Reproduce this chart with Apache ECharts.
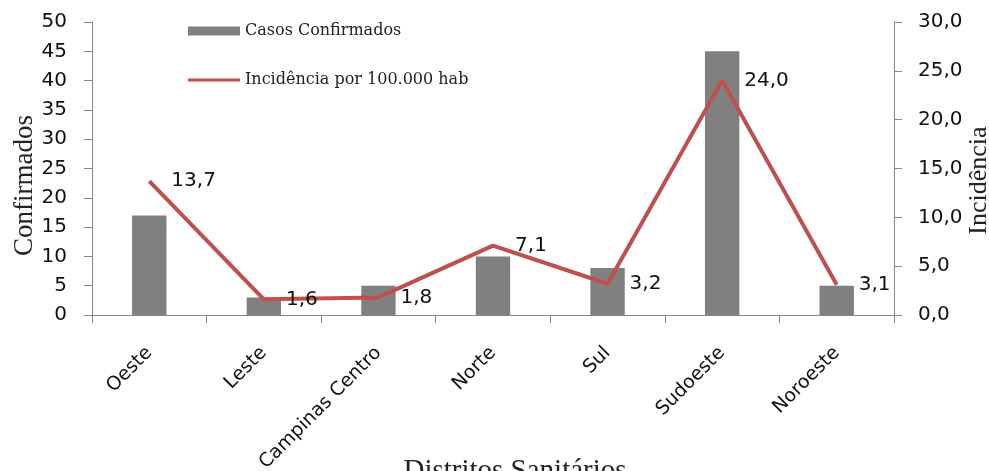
<!DOCTYPE html>
<html>
<head>
<meta charset="utf-8">
<script src="https://cdn.jsdelivr.net/npm/echarts@6/dist/echarts.min.js"></script>
<style>
  html, body { margin: 0; padding: 0; background: #fff; }
  #chart { width: 989px; height: 471px; }
</style>
</head>
<body>
<div id="chart"></div>
<script>
// dados
var distritos = ['Oeste', 'Leste', 'Campinas Centro', 'Norte', 'Sul', 'Sudoeste', 'Noroeste'];
var confirmados = [17, 3, 5, 10, 8, 45, 5];
var incidencia = [13.7, 1.6, 1.8, 7.1, 3.2, 24.0, 3.1];

var serif = '"Liberation Serif", "DejaVu Serif", serif';
var sans = '"DejaVu Sans", Verdana, sans-serif';
var axisGray = '#868686';
var lineRed = '#c0504d';

function virgula(v) { return v.toFixed(1).replace('.', ','); }

var chart = echarts.init(document.getElementById('chart'));
chart.setOption({
  animation: false,
  grid: { left: 92, right: 95, top: 22, bottom: 156, outerBoundsMode: 'none', containLabel: false },
  legend: {
    orient: 'vertical',
    left: 183,
    top: 18,
    itemWidth: 52,
    itemHeight: 9,
    itemGap: 33,
    textStyle: { fontFamily: '"DejaVu Serif", serif', fontSize: 16, color: '#222' },
    data: [
      { name: 'Casos Confirmados', icon: 'rect' },
      { name: 'Incidência por 100.000 hab', icon: 'path://M0,0 L52,0 L52,3 L0,3 Z', itemStyle: { color: lineRed } }
    ]
  },
  xAxis: {
    type: 'category',
    data: distritos,
    name: 'Distritos Sanitários',
    nameLocation: 'middle',
    nameGap: 142,
    nameMoveOverlap: false,
    nameTextStyle: { fontFamily: serif, fontSize: 29, color: '#222', padding: [0, 0, 0, 44] },
    axisLine: { lineStyle: { color: axisGray } },
    axisTick: { show: true, length: 8, lineStyle: { color: axisGray } },
    axisLabel: {
      rotate: 45,
      interval: 0,
      margin: 35,
      fontFamily: sans,
      fontSize: 19,
      color: '#111'
    }
  },
  yAxis: [
    {
      type: 'value',
      min: 0, max: 50, interval: 5,
      name: 'Confirmados',
      nameLocation: 'middle',
      nameRotate: 90,
      nameGap: 54,
      nameMoveOverlap: false,
      nameTextStyle: { fontFamily: serif, fontSize: 27, color: '#222', padding: [0, 34, 0, 0] },
      axisLine: { show: true, lineStyle: { color: axisGray } },
      axisTick: { show: true, length: 8, lineStyle: { color: axisGray } },
      splitLine: { show: false },
      axisLabel: { fontFamily: sans, fontSize: 20, color: '#111', margin: 25 }
    },
    {
      type: 'value',
      min: 0, max: 30, interval: 5,
      position: 'right',
      name: 'Incidência',
      nameLocation: 'middle',
      nameRotate: 90,
      nameGap: 72,
      nameMoveOverlap: false,
      nameTextStyle: { fontFamily: serif, fontSize: 26, color: '#222', padding: [0, 24, 0, 0] },
      axisLine: { show: true, lineStyle: { color: axisGray } },
      axisTick: { show: true, length: 8, lineStyle: { color: axisGray } },
      splitLine: { show: false },
      axisLabel: { fontFamily: sans, fontSize: 20, color: '#111', margin: 24, formatter: virgula }
    }
  ],
  series: [
    {
      name: 'Casos Confirmados',
      type: 'bar',
      data: confirmados,
      barWidth: '30%',
      itemStyle: { color: '#808080' }
    },
    {
      name: 'Incidência por 100.000 hab',
      type: 'line',
      yAxisIndex: 1,
      data: incidencia,
      symbol: 'circle',
      symbolSize: 0.1,
      lineStyle: { color: lineRed, width: 4 },
      itemStyle: { color: lineRed },
      label: {
        show: true,
        position: 'right',
        distance: 22,
        fontFamily: sans,
        fontSize: 20,
        color: '#111',
        formatter: function (p) { return virgula(p.value); }
      }
    }
  ]
});
</script>
</body>
</html>
